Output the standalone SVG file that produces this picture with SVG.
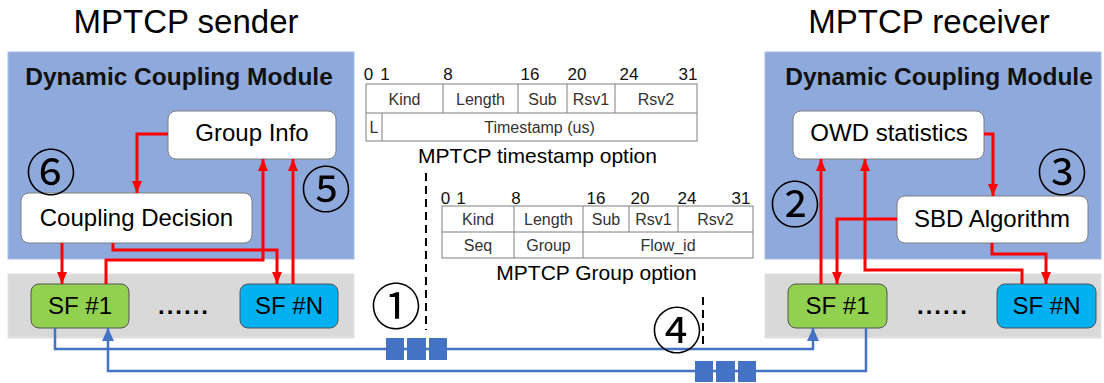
<svg xmlns="http://www.w3.org/2000/svg" width="1104" height="383" viewBox="0 0 1104 383">
<style>
.title{font-family:"Liberation Sans",Arial,sans-serif;font-size:33px;fill:#000;text-anchor:middle}
.mod{font-family:"Liberation Sans",Arial,sans-serif;font-size:24.5px;font-weight:bold;fill:#111;text-anchor:middle}
.lbl{font-family:"Liberation Sans",Arial,sans-serif;font-size:24px;fill:#000;text-anchor:middle}
.dots{font-family:"Liberation Sans",Arial,sans-serif;font-size:24px;font-weight:bold;fill:#000;text-anchor:middle;letter-spacing:2px}
.cell{font-family:"Liberation Sans",Arial,sans-serif;font-size:16px;fill:#333;text-anchor:middle}
.num{font-family:"Liberation Sans",Arial,sans-serif;font-size:17px;fill:#111;text-anchor:middle}
.cap{font-family:"Liberation Sans",Arial,sans-serif;font-size:21px;fill:#000;text-anchor:middle}
.circ{font-family:"Noto Sans CJK SC","DejaVu Sans",sans-serif;font-size:50px;fill:#000;text-anchor:middle}
.module{fill:#8EA9DB;stroke:#A9BEE3;stroke-width:1}
.band{fill:#D9D9D9;stroke:#E2E2E2;stroke-width:1}
.box{fill:#fff;stroke:#7F7F7F;stroke-width:1}
.sf1{fill:#92D050;stroke:#555;stroke-width:1}
.sfn{fill:#00B0F0;stroke:#555;stroke-width:1}
.tbl{fill:#fff;stroke:#7F7F7F;stroke-width:1}
.grid{stroke:#7F7F7F;stroke-width:1;fill:none}
.red{fill:none;stroke:#FF0000;stroke-width:3;marker-end:url(#ra)}
.blue{fill:none;stroke:#4472C4;stroke-width:2.5;marker-end:url(#ba)}
.pkt{fill:#4472C4}
.dash{stroke:#000;stroke-width:2;stroke-dasharray:8 5;fill:none}
</style>
<defs>
<marker id="ra" viewBox="0 0 12 10" refX="12" refY="5" markerWidth="12" markerHeight="10" markerUnits="userSpaceOnUse" orient="auto">
<path d="M0,0 L12,5 L0,10 Z" fill="#FF0000"/>
</marker>
<marker id="ba" viewBox="0 0 13 12" refX="13" refY="6" markerWidth="13" markerHeight="12" markerUnits="userSpaceOnUse" orient="auto">
<path d="M0,0 L13,6 L0,12 Z" fill="#4472C4"/>
</marker>
</defs>

<text class="title" x="186" y="33">MPTCP sender</text>
<text class="title" x="929" y="33">MPTCP receiver</text>

<g id="sender-module">
<rect class="module" x="8" y="52" width="346" height="207"/>
<text class="mod" x="179" y="85">Dynamic Coupling Module</text>
</g>
<g id="sender-band"><rect class="band" x="8" y="274" width="346" height="64"/></g>
<g id="receiver-module">
<rect class="module" x="765" y="52" width="336" height="207"/>
<text class="mod" x="939" y="85">Dynamic Coupling Module</text>
</g>
<g id="receiver-band"><rect class="band" x="765" y="274" width="336" height="64"/></g>

<g id="group-info"><rect class="box" x="168" y="111" width="168" height="48" rx="8"/><text class="lbl" x="252" y="141">Group Info</text></g>
<g id="coupling-decision"><rect class="box" x="21" y="193" width="231" height="50" rx="8"/><text class="lbl" x="136.5" y="226">Coupling Decision</text></g>
<g id="sender-sf1"><rect class="sf1" x="31" y="284" width="98" height="44" rx="8"/><text class="lbl" x="80" y="314">SF #1</text></g>
<g id="sender-dots"><text class="dots" x="184" y="314">......</text></g>
<g id="sender-sfn"><rect class="sfn" x="240" y="284" width="98" height="44" rx="8"/><text class="lbl" x="289" y="314">SF #N</text></g>

<g id="owd-statistics"><rect class="box" x="793" y="111" width="191" height="48" rx="8"/><text class="lbl" x="889" y="141">OWD statistics</text></g>
<g id="sbd-algorithm"><rect class="box" x="897" y="196" width="191" height="47" rx="8"/><text class="lbl" x="992" y="227">SBD Algorithm</text></g>
<g id="receiver-sf1"><rect class="sf1" x="788" y="284" width="99" height="44" rx="8"/><text class="lbl" x="837.5" y="314">SF #1</text></g>
<g id="receiver-dots"><text class="dots" x="943" y="314">......</text></g>
<g id="receiver-sfn"><rect class="sfn" x="997" y="284" width="99" height="44" rx="8"/><text class="lbl" x="1046.5" y="314">SF #N</text></g>

<g id="timestamp-option">
<text class="num" x="368.5" y="80">0</text>
<text class="num" x="385" y="80">1</text>
<text class="num" x="448" y="80">8</text>
<text class="num" x="530" y="80">16</text>
<text class="num" x="577" y="80">20</text>
<text class="num" x="629" y="80">24</text>
<text class="num" x="688" y="80">31</text>
<rect class="tbl" x="366" y="84" width="331" height="57"/>
<path class="grid" d="M366,113 H697 M443,84 V113 M518,84 V113 M567,84 V113 M615,84 V113 M382,113 V141"/>
<text class="cell" x="404.5" y="105">Kind</text>
<text class="cell" x="480.5" y="105">Length</text>
<text class="cell" x="542.5" y="105">Sub</text>
<text class="cell" x="591" y="105">Rsv1</text>
<text class="cell" x="656" y="105">Rsv2</text>
<text class="cell" x="374" y="133">L</text>
<text class="cell" x="539.5" y="133">Timestamp (us)</text>
<text class="cap" x="537.5" y="163">MPTCP timestamp option</text>
</g>

<g id="group-option">
<text class="num" x="445.5" y="204">0</text>
<text class="num" x="461" y="204">1</text>
<text class="num" x="516" y="204">8</text>
<text class="num" x="596" y="204">16</text>
<text class="num" x="640" y="204">20</text>
<text class="num" x="687" y="204">24</text>
<text class="num" x="741" y="204">31</text>
<rect class="tbl" x="442" y="206" width="311" height="52"/>
<path class="grid" d="M442,232 H753 M514,206 V258 M583,206 V258 M629,206 V232 M678,206 V232"/>
<text class="cell" x="478" y="225">Kind</text>
<text class="cell" x="548.5" y="225">Length</text>
<text class="cell" x="606" y="225">Sub</text>
<text class="cell" x="653.5" y="225">Rsv1</text>
<text class="cell" x="715.5" y="225">Rsv2</text>
<text class="cell" x="478" y="251">Seq</text>
<text class="cell" x="548.5" y="251">Group</text>
<text class="cell" x="668" y="251">Flow_id</text>
<text class="cap" x="596.5" y="280">MPTCP Group option</text>
</g>

<g id="connectors">
<path class="red" d="M168,134 H137 V193"/>
<path class="red" d="M62,243 V284"/>
<path class="red" d="M113,243 V250 H277 V284"/>
<path class="red" d="M106,284 V260 H263 V159"/>
<path class="red" d="M293,284 V159"/>
<path class="red" d="M984,134 H993 V196"/>
<path class="red" d="M821,284 V159"/>
<path class="red" d="M897,219 H837 V284"/>
<path class="red" d="M1022,284 V270 H865 V159"/>
<path class="red" d="M992,243 V254 H1046 V284"/>
<path class="blue" d="M55,328 V349 H813 V328"/>
<path class="blue" d="M866,328 V371 H108 V328"/>
<path class="dash" d="M426,173 V330"/>
<path class="dash" d="M703,297 V348"/>
</g>

<g id="packets-data">
<rect class="pkt" x="386" y="338" width="18" height="22"/>
<rect class="pkt" x="407" y="338" width="19" height="22"/>
<rect class="pkt" x="429" y="338" width="18" height="22"/>
</g>
<g id="packets-ack">
<rect class="pkt" x="695" y="361" width="18" height="21"/>
<rect class="pkt" x="716" y="361" width="19" height="21"/>
<rect class="pkt" x="738" y="361" width="18" height="21"/>
</g>

<g id="step-labels">
<text class="circ" x="396" y="325">①</text>
<text class="circ" x="795" y="223">②</text>
<text class="circ" x="1062" y="191">③</text>
<text class="circ" x="677" y="349">④</text>
<text class="circ" x="326" y="208">⑤</text>
<text class="circ" x="51" y="191">⑥</text>
</g>
</svg>
